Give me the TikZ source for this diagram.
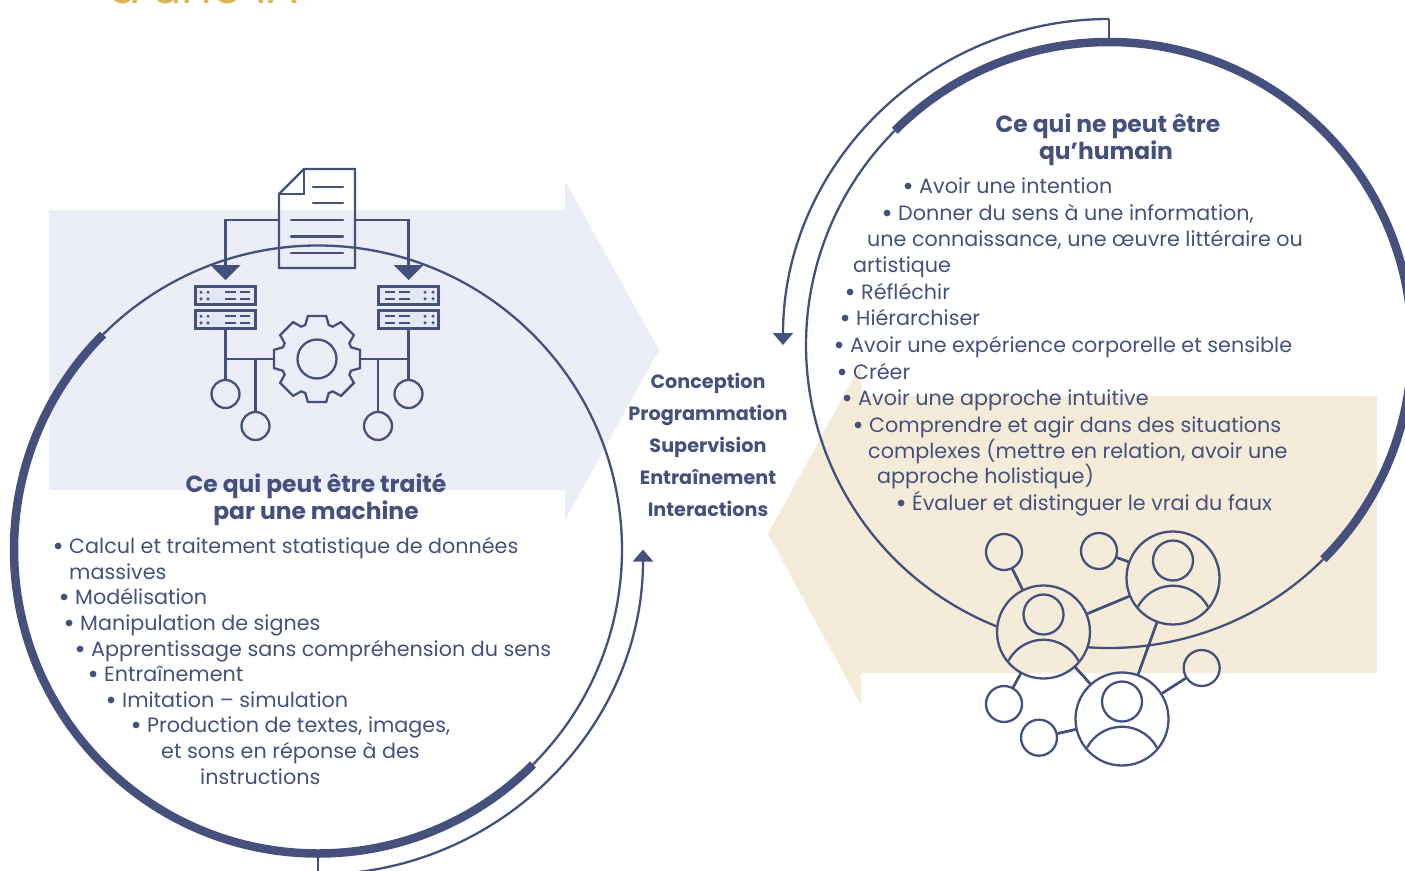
\documentclass[tikz,border=0pt]{standalone}
\usepackage{fontspec}
\setmainfont{Poppins}
\usetikzlibrary{arrows.meta,calc}
\definecolor{navy}{RGB}{69,80,125}
\definecolor{paleblue}{RGB}{235,238,246}
\definecolor{palebeige}{RGB}{244,235,216}
\definecolor{srvfill}{RGB}{228,232,244}
\definecolor{goldtitle}{RGB}{217,182,92}
\tikzset{
	iconline/.style={draw=navy, line width=2.3pt},
	thinarc/.style={draw=navy, line width=2.3pt},
	thickarc/.style={draw=navy, line width=8.5pt},
	flowarrow/.style={draw=navy, line width=2.3pt, -{Triangle[width=20pt,length=12pt]}},
	dropfill/.style={fill=navy, draw=none},
	bodytext/.style={anchor=base west, inner sep=0pt, yshift=-1pt, text=navy, font=\fontsize{20.7}{20.7}\selectfont},
	headtext/.style={anchor=base, inner sep=0pt, yshift=-1pt, text=navy, font=\fontsize{23.4}{23.4}\selectfont\bfseries},
	midtext/.style={anchor=base, inner sep=0pt, yshift=-0.5pt, text=navy, font=\fontsize{19.2}{19.2}\selectfont\bfseries},
	iconring/.style={iconline, circle, inner sep=0pt, minimum size=28pt},
	smallring/.style={iconline, circle, inner sep=0pt, minimum size=36pt},
	bigring/.style={iconline, circle, inner sep=0pt, minimum size=93pt},
	srvbox/.style={iconline, fill=srvfill, rectangle, inner sep=0pt, minimum width=60pt, minimum height=18pt},
}
% head and shoulders inside a big ring
\newcommand{\personicon}[1]{%
	\draw[iconline] ($(#1)+(0,-17.5)$) circle (20);
	\draw[iconline] ($(#1)+(-35,28.7)$) arc (208.2:331.8:39.7);
}
% bullet of the lists
\newcommand{\puce}{\hspace*{-1.5pt}\makebox[16.5pt][l]{\fontsize{27}{27}\selectfont\raisebox{-2.2pt}{•}}}
\begin{document}
\begin{tikzpicture}[x=1pt, y=-1pt, line cap=butt, line join=miter]
	\useasboundingbox (0,0) rectangle (1405,870);
	\clip (0,0) rectangle (1405,870);

	% --- Background arrows ---
	\fill[paleblue] (49,210) -- (565,210) -- (565,181) -- (659,350) -- (565,520) -- (565,490) -- (49,490) -- cycle;
	\fill[palebeige] (1377,396) -- (861,396) -- (861,364) -- (768,534) -- (861,705) -- (861,673) -- (1377,673) -- cycle;

	% --- Title, cut by the top of the page ---
	\node[anchor=base west, inner sep=0pt, text=goldtitle, font=\fontsize{48}{48}\selectfont] (titlecut) at (108,3.5) {d’une IA};

	% --- Left circle ---
	\coordinate (lc) at (318,549.5);
	\draw[thinarc] ($(lc)+(45:304)$) arc (45:-135:304);
	\draw[thickarc] ($(lc)+(225:304)$) arc (225:45:304);
	\coordinate (lstart) at ($(lc)+(90:304)$);
	\coordinate (lbend) at ($(lc)+(90:325)$);
	\draw[thinarc] (lstart) -- (lbend);
	\draw[flowarrow] (lbend) arc (90:0:325);

	% --- Right circle ---
	\coordinate (rc) at (1109,345);
	\draw[thinarc] ($(rc)+(225:303)$) arc (225:111.7:303);
	\draw[thinarc] ($(rc)+(94:303)$) arc (94:45:303);
	\draw[thickarc] ($(rc)+(225:303)$) arc (225:405:303);
	\coordinate (rstart) at ($(rc)+(270:303)$);
	\coordinate (rbend) at ($(rc)+(270:326)$);
	\draw[thinarc] (rstart) -- (rbend);
	\draw[flowarrow] (rbend) arc (270:180:326);

	% --- Document icon ---
	\draw[iconline] (304,169) -- (355,169) -- (355,268) -- (279,268) -- (279,194) -- cycle;
	\draw[iconline] (279,194) -- (304,194) -- (304,169);
	\foreach \ly/\lx in {187/313,203/313,220/291,236.5/291,253/291}
		\draw[iconline, line cap=round] (\lx,\ly) -- (343,\ly);
	\coordinate (docl) at (279,220);
	\coordinate (docr) at (355,220);

	% --- Servers ---
	\node[srvbox] (srvla) at (225.5,295.5) {};
	\node[srvbox] (srvlb) at (225.5,319.5) {};
	\node[srvbox] (srvra) at (408.5,295.5) {};
	\node[srvbox] (srvrb) at (408.5,319.5) {};
	\foreach \sy in {295.5,319.5} {
		\foreach \dx in {201,208,425,433} {
			\fill[navy] (\dx,\sy-3.3) circle (1.7);
			\fill[navy] (\dx,\sy+3.3) circle (1.7);
		}
		\foreach \ax/\bx in {225/236,240/250,385/395,399/410} {
			\draw[navy, line width=2.2pt] (\ax,\sy-3.3) -- (\bx,\sy-3.3);
			\draw[navy, line width=2.2pt] (\ax,\sy+3.3) -- (\bx,\sy+3.3);
		}
	}

	% --- Arrows from document to servers ---
	\coordinate (dropl) at (225.5,265);
	\coordinate (dropr) at (408.5,265);
	\draw[iconline] (docl) -| (dropl);
	\draw[iconline] (docr) -| (dropr);
	\fill[dropfill] (210.5,265) -- (240.5,265) -- (225.5,280) -- cycle;
	\fill[dropfill] (393.5,265) -- (423.5,265) -- (408.5,280) -- cycle;

	% --- Gear ---
	\coordinate (gear) at (317,359);
	\draw[iconline, shift={(gear)}] (-19:36)
		\foreach \a in {0,45,...,315} { -- (\a-19:36) -- (\a-12:44) -- (\a+12:44) -- (\a+19:36) } -- cycle;
	\draw[iconline] (gear) circle (19.5);

	% --- Rings under the servers ---
	\node[iconring] (rla) at (225.5,394) {};
	\node[iconring] (rlb) at (255.5,426) {};
	\node[iconring] (rra) at (408.5,394) {};
	\node[iconring] (rrb) at (378,426) {};
	\coordinate (gearl) at (273,359);
	\coordinate (gearr) at (361,359);
	\draw[iconline] (srvlb) -- (rla);
	\draw[iconline] (srvrb) -- (rra);
	\draw[iconline] (225.5,359) -- (gearl);
	\draw[iconline] (gearr) -- (408.5,359);
	\draw[iconline] (255.5,359) -- (rlb);
	\draw[iconline] (378,359) -- (rrb);

	% --- People network ---
	\node[bigring] (pa) at (1043.5,632) {};
	\node[bigring] (pb) at (1173,578) {};
	\node[bigring] (pc) at (1122,719) {};
	\node[smallring] (sa) at (1004,552) {};
	\node[smallring] (sb) at (1099,551) {};
	\node[smallring] (sc) at (1201.7,668) {};
	\node[smallring] (sd) at (1004,704) {};
	\node[smallring] (se) at (1039,737.7) {};
	\foreach \p in {pa,pb,pc} \personicon{\p}
	\foreach \u/\v in {sa/pa,sd/pa,sb/pb,sc/pc,se/pc,pa/pb,pb/pc,pa/pc}
		\draw[iconline] (\u) -- (\v);

	% --- Left text ---
	\node[headtext] (lhead1) at (316,491) {Ce qui peut être traité};
	\node[headtext] (lhead2) at (316,518) {par une machine};
	\foreach \x/\y/\txt [count=\i] in {
		54/552/{\puce Calcul et traitement statistique de données},
		69/578/{massives},
		60/603/{\puce Modélisation},
		65/629/{\puce Manipulation de signes},
		76/655/{\puce Apprentissage sans compréhension du sens},
		89/680/{\puce Entraînement},
		107/706/{\puce Imitation – simulation},
		132/731/{\puce Production de textes, images,},
		161/757/{et sons en réponse à des},
		200/783/{instructions}}
		\node[bodytext] (ltext\i) at (\x,\y) {\txt};

	% --- Right text ---
	\node[headtext] (rhead1) at (1108,131) {Ce qui ne peut être};
	\node[headtext] (rhead2) at (1106,158) {qu’humain};
	\foreach \x/\y/\txt [count=\i] in {
		904/192/{\puce Avoir une intention},
		883/219/{\puce Donner du sens à une information,},
		867/245/{une connaissance, une œuvre littéraire ou},
		853/271/{artistique},
		846/298/{\puce Réfléchir},
		841/324/{\puce Hiérarchiser},
		835/351/{\puce Avoir une expérience corporelle et sensible},
		838/378/{\puce Créer},
		843/404/{\puce Avoir une approche intuitive},
		854/431/{\puce Comprendre et agir dans des situations},
		868/457/{complexes (mettre en relation, avoir une},
		877/482/{approche holistique)},
		897/509/{\puce Évaluer et distinguer le vrai du faux}}
		\node[bodytext] (rtext\i) at (\x,\y) {\txt};

	% --- Middle words ---
	\foreach \y/\txt [count=\i] in {388/Conception,420/Programmation,452/Supervision,484/Entraînement,516/Interactions}
		\node[midtext] (mid\i) at (708,\y) {\txt};
\end{tikzpicture}
\end{document}
